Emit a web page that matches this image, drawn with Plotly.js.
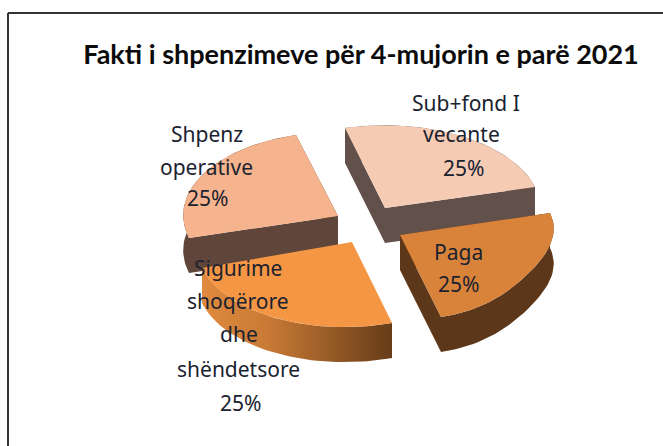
<!DOCTYPE html>
<html><head><meta charset="utf-8">
<script src="https://cdn.plot.ly/plotly-3.0.1.min.js"></script>
<style>html,body{margin:0;padding:0;background:#fff}</style></head>
<body><div id="chart" style="width:663px;height:446px"></div>
<script>
const chartTitle = "Fakti i shpenzimeve për 4-mujorin e parë 2021";
const categories = ["Sub+fond I\nvecante", "Paga", "Sigurime\nshoqërore\ndhe\nshëndetsore", "Shpenz\noperative"];
const values = [25, 25, 25, 25];
const percentLabels = ["25%", "25%", "25%", "25%"];

// Drawing of the tilted, exploded pie (pixel-like axes 0..663 / 446..0)
const apex = [[385,208],[400,235],[352,242],[338,216]];
const axisA = [[-40,-80],[150,-22],[40,81],[-42,-81]];
const axisB = [[150,-21],[41,82],[-150,26],[-149,22]];
const bulge = [1,0.94,1,1];
const depth = 35;
const topColors = ["#F5CBB4","#D9833A","#F59644","#F6B48E"];
const sideColors = ["#62504A","#5C3719","#6A3F1A","#60453A"];
const labelX = [[466,461,463],[458,458],[238,238,239,238,240],[207,206,207]];
const labelY = [[103,134,168],[252,284],[268,301,334,369,403],[134,167,198]];
const drawOrder = [0,3,1,2];

const total = values.reduce((a,b)=>a+b,0);
function arc(i){
  const sweep = values[i]/total*2*Math.PI, pts=[];
  for(let k=0;k<=48;k++){
    const t=k/48*sweep, s=Math.sin(2*t), w=1-(1-bulge[i])*s*s;
    pts.push([apex[i][0]+w*(Math.cos(t)*axisA[i][0]+Math.sin(t)*axisB[i][0]),
              apex[i][1]+w*(Math.cos(t)*axisA[i][1]+Math.sin(t)*axisB[i][1])]);
  }
  return pts;
}
function poly(pts,color,extra){
  const closed=pts.concat([pts[0]]);
  return Object.assign({type:"scatter",mode:"lines",x:closed.map(p=>p[0]),y:closed.map(p=>p[1]),
    fill:"toself",fillcolor:color,line:{width:0,color:color},hoverinfo:"skip",showlegend:false},extra||{});
}
const traces=[];
drawOrder.forEach(i=>{
  const a=arc(i), down=p=>[p[0],p[1]+depth], c=apex[i];
  const band=a.concat(a.slice().reverse().map(down));
  const extra = i===2 ? {fillgradient:{type:"horizontal",colorscale:[[0,"#E08A3E"],[0.35,"#C87A35"],[1,"#663C18"]]}} : {};
  traces.push(poly(band,sideColors[i],extra));
  [a[0],a[a.length-1]].forEach(e=>{
    if(i!==2) traces.push(poly([c,e,down(e),down(c)],sideColors[i]));
  });
  traces.push(poly([c].concat(a),topColors[i]));
});

const annotations=[];
categories.forEach((cat,i)=>{
  cat.split("\n").concat([percentLabels[i]]).forEach((line,j)=>{
    annotations.push({x:labelX[i][j],y:labelY[i][j],xref:"x",yref:"y",text:line,showarrow:false,
      xanchor:"center",yanchor:"middle",font:{family:"'Noto Sans',sans-serif",size:21,color:"#1A2230"}});
  });
});

const layout={
  width:663,height:446,margin:{l:0,r:0,t:0,b:0},paper_bgcolor:"#fff",plot_bgcolor:"#fff",showlegend:false,
  title:{text:"<b>"+chartTitle+"</b>",x:361/663,xanchor:"center",y:1-55/446,yanchor:"middle",
         font:{family:"Lato,sans-serif",size:27,color:"#0b0b0b"}},
  xaxis:{range:[0,663],visible:false,fixedrange:true},
  yaxis:{range:[446,0],visible:false,fixedrange:true},
  shapes:[
    {type:"line",xref:"x",yref:"y",x0:8,x1:8,y0:13,y1:446,line:{color:"#333",width:2}},
    {type:"line",xref:"x",yref:"y",x0:8,x1:663,y0:13,y1:13,line:{color:"#333",width:2}}
  ],
  annotations:annotations
};
Plotly.newPlot("chart",traces,layout,{displayModeBar:false,staticPlot:true});
</script></body></html>
